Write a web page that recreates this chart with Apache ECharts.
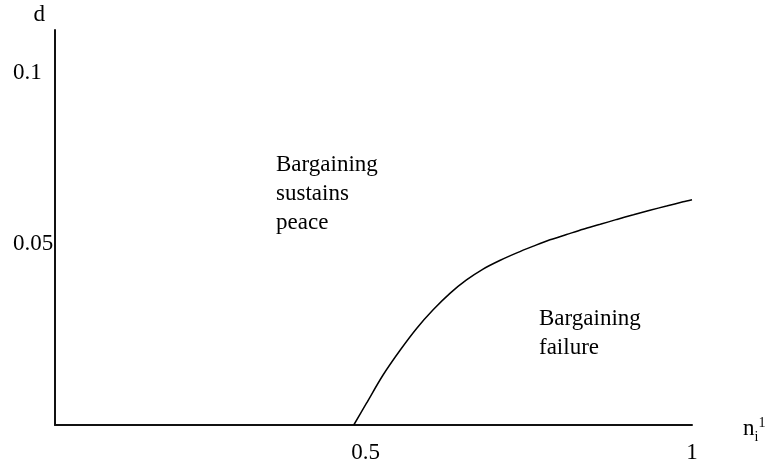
<!DOCTYPE html>
<html>
	<head>
		<meta charset="utf-8" />
		<title>Bargaining</title>
		<style>
			html, body { margin: 0; padding: 0; background: #fff; }
			#chart { width: 771px; height: 469px; }
		</style>
	</head>
	<body>
		<div id="chart"></div>
		<script src="https://cdn.jsdelivr.net/npm/echarts@6/dist/echarts.min.js"></script>
		<script>
			// boundary curve
			var nValues = [0.469, 0.489, 0.515, 0.542, 0.568, 0.594, 0.620, 0.646, 0.672, 0.699, 0.725,
				0.751, 0.777, 0.803, 0.829, 0.856, 0.882, 0.908, 0.934, 0.960, 0.986, 1.0];
			var dValues = [0, 0.0062, 0.0142, 0.0213, 0.0275, 0.0328, 0.0374, 0.0412, 0.0443, 0.0468, 0.0489,
				0.0508, 0.0526, 0.0541, 0.0556, 0.0570, 0.0584, 0.0597, 0.0610, 0.0622, 0.0634, 0.0640];
			var xTicks = [0.5, 1];
			var yTicks = [0.05, 0.1];

			var font = 'Liberation Serif, Times New Roman, serif';
			var chart = echarts.init(document.getElementById('chart'));

			var curve = nValues.map(function (n, i) { return [n, dValues[i]]; });

			function labelRich(extra) {
				var s = { fontFamily: font, fontSize: 23, color: '#000' };
				for (var k in extra) s[k] = extra[k];
				return s;
			}

			var option = {
				backgroundColor: '#fff',
				animation: false,
				grid: {
					left: 55,
					right: 79,
					top: 30,
					bottom: 44
				},
				xAxis: {
					type: 'value',
					min: 0,
					max: 1,
					name: '{n|n}{sub|i}{sup|1}',
					nameLocation: 'end',
					nameGap: 51,
					nameTextStyle: {
						padding: [8, 0, 0, 0],
						rich: {
							n: { fontFamily: font, fontSize: 23, color: '#000', lineHeight: 30 },
							sub: { fontFamily: font, fontSize: 14, color: '#000', lineHeight: 14, verticalAlign: 'bottom' },
							sup: { fontFamily: font, fontSize: 14, color: '#000', lineHeight: 14, verticalAlign: 'top', padding: [2, 0, 0, 0] }
						}
					},
					axisLine: { show: true, onZero: false, lineStyle: { color: '#111', width: 2 } },
					axisTick: { show: false },
					splitLine: { show: false },
					axisLabel: {
						customValues: xTicks,
						fontFamily: font,
						fontSize: 23,
						color: '#000',
						margin: 16,
						// the 0.5 label sits a little left of its tick in the picture
						formatter: function (v) {
							return v === 0.5 ? '{l|0.5}' : '{c|' + v + '}';
						},
						rich: {
							l: labelRich({ padding: [0, 16, 0, 0] }),
							c: labelRich({})
						}
					}
				},
				yAxis: {
					type: 'value',
					min: 0,
					max: 0.1122,
					name: 'd',
					nameLocation: 'end',
					nameGap: 4,
					nameTextStyle: {
						fontFamily: font,
						fontSize: 23,
						color: '#000',
						align: 'right',
						padding: [0, 10, 0, 0]
					},
					axisLine: { show: true, onZero: false, lineStyle: { color: '#111', width: 2 } },
					axisTick: { show: false },
					splitLine: { show: false },
					axisLabel: {
						customValues: yTicks,
						fontFamily: font,
						fontSize: 23,
						color: '#000',
						align: 'left',
						margin: 42,
						formatter: function (v) {
							return v === 0.05 ? '{u|0.05}' : '{c|' + v + '}';
						},
						rich: {
							u: labelRich({ padding: [0, 0, 10, 0] }),
							c: labelRich({})
						}
					}
				},
				series: [{
					type: 'line',
					data: curve,
					smooth: 0.3,
					symbol: 'none',
					lineStyle: { color: '#000', width: 1.5 }
				}],
				graphic: [{
					type: 'text',
					left: 276,
					top: 150,
					style: {
						text: 'Bargaining\nsustains\npeace',
						font: '23px ' + font,
						lineHeight: 29,
						fill: '#000'
					}
				}, {
					type: 'text',
					left: 539,
					top: 304,
					style: {
						text: 'Bargaining\nfailure',
						font: '23px ' + font,
						lineHeight: 29,
						fill: '#000'
					}
				}]
			};
			chart.setOption(option);
		</script>
	</body>
</html>
